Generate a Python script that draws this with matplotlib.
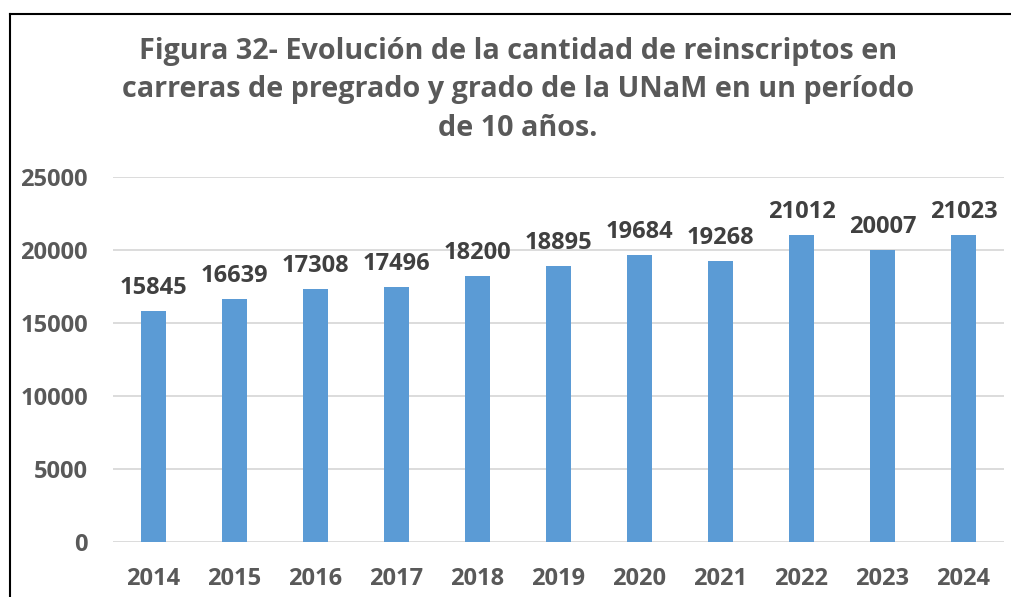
import matplotlib.pyplot as plt
from matplotlib.lines import Line2D
import numpy as np

years = ["2014", "2015", "2016", "2017", "2018", "2019", "2020", "2021", "2022", "2023", "2024"]
reinscriptos = [15845, 16639, 17308, 17496, 18200, 18895, 19684, 19268, 21012, 20007, 21023]
yticks = [0, 5000, 10000, 15000, 20000, 25000]

plt.rcParams['font.family'] = ['Open Sans', 'DejaVu Sans']

W, H = 1011, 597
fig = plt.figure(figsize=(W / 100, H / 100), dpi=100)
ax = fig.add_axes([113 / W, 1 - 542 / H, (1004 - 113) / W, (542 - 177) / H])

x = np.arange(len(years))
ax.bar(x, reinscriptos, width=0.31, color="#5B9BD5", zorder=3)
for xi, v in zip(x, reinscriptos):
    ax.text(xi, v + 750, str(v), ha="center", va="bottom", fontsize=17,
            fontweight="bold", color="#404040")

ax.set_xlim(-0.5, len(years) - 0.5)
ax.set_ylim(0, 25000)
ax.set_yticks(yticks)
ax.set_yticklabels([str(t) for t in yticks], fontsize=17, fontweight="bold", color="#595959")
ax.set_xticks(x)
ax.set_xticklabels(years, fontsize=17, fontweight="bold", color="#595959")
ax.tick_params(length=0)
ax.tick_params(axis="y", pad=18)
ax.tick_params(axis="x", pad=18)
ax.grid(axis="y", color="#D9D9D9", linewidth=1.3, zorder=0)
for s in ax.spines.values():
    s.set_visible(False)

fig.text(518 / W, 1 - 90 / H,
         "Figura 32- Evolución de la cantidad de reinscriptos en\n"
         "carreras de pregrado y grado de la UNaM en un período\n"
         "de 10 años.",
         ha="center", va="center", fontsize=20.7, fontweight="bold",
         color="#595959", linespacing=1.44)

# frame of the chart area (only left and top edges are inside the image)
fig.add_artist(Line2D([9.5 / W, 9.5 / W], [0, 1 - 14 / H], color="black", linewidth=1.5))
fig.add_artist(Line2D([9.5 / W, 1], [1 - 14 / H, 1 - 14 / H], color="black", linewidth=1.5))

fig.savefig("out.png", dpi=100)
